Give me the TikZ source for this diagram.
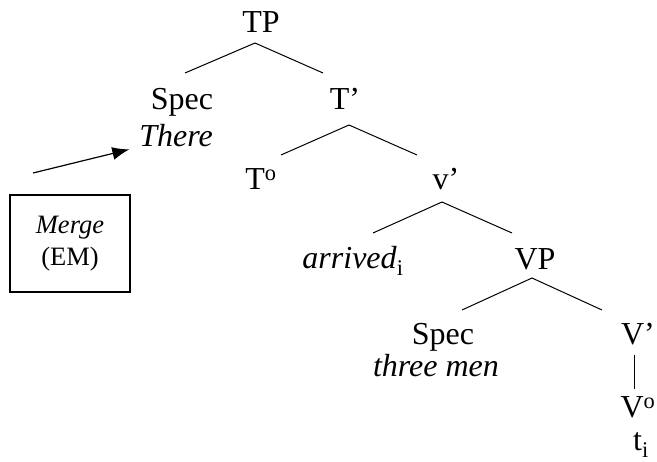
\documentclass[tikz,border=0pt]{standalone}
\usepackage{fontspec}
\setmainfont{Liberation Serif}
\usetikzlibrary{arrows.meta}

\begin{document}
\begin{tikzpicture}[x=1pt, y=-1pt, >={Latex[length=17pt,width=13pt]},
  every node/.style={inner sep=0pt, anchor=base, font=\fontsize{32}{36}\selectfont},
  branch/.style={line width=1pt}]
\useasboundingbox (0,0) rectangle (657,462);

% TP and its daughters
\path
(261,33)  node (TP)    {TP}
(182,110) node (spec1) {Spec}
(176,147) node (there) {\textit{There}}
(345,110) node (Tbar)  {T’};
\coordinate (TP-m) at (255,43);
\coordinate (TP-l) at (185,73);
\coordinate (TP-r) at (323,73);
\draw[branch] (TP-l)--(TP-m)--(TP-r);

% T' level
\path
(261,190) node (T0)   {T\textsuperscript{o}}
(446,190) node (vbar) {v’};
\coordinate (Tbar-m) at (349,125);
\coordinate (Tbar-l) at (281,155);
\coordinate (Tbar-r) at (417,155);
\draw[branch] (Tbar-l)--(Tbar-m)--(Tbar-r);

% v' level
\path
(353,269) node (arrived) {\textit{arrived}\textsubscript{i}}
(535,270) node (VP)      {VP};
\coordinate (vbar-m) at (442,202);
\coordinate (vbar-l) at (373,233);
\coordinate (vbar-r) at (512,233);
\draw[branch] (vbar-l)--(vbar-m)--(vbar-r);

% VP level
\path
(443,345) node (spec2)  {Spec}
(436,377) node (threemen) {\textit{three men}}
(638,345) node (Vbar)   {V’}
(638,418) node (V0)     {V\textsuperscript{o}}
(641,451) node (trace)  {t\textsubscript{i}};
\coordinate (VP-m) at (532,278);
\coordinate (VP-l) at (462,310);
\coordinate (VP-r) at (602,310);
\draw[branch] (VP-l)--(VP-m)--(VP-r);
\coordinate (Vbar-b) at (634,355);
\coordinate (V0-t)   at (634,389);
\draw[branch] (Vbar-b)--(V0-t);

% external merge
\node[draw, line width=1.2pt, anchor=center, minimum width=120pt, minimum height=97pt,
      align=center, font=\fontsize{26.5}{32}\selectfont] (merge) at (70,243.5)
      {\textit{Merge}\\(EM)};
\coordinate (m0) at (33,173);
\draw[->, line width=1.2pt, shorten >=10pt] (m0)--(there.base west);

\end{tikzpicture}
\end{document}
